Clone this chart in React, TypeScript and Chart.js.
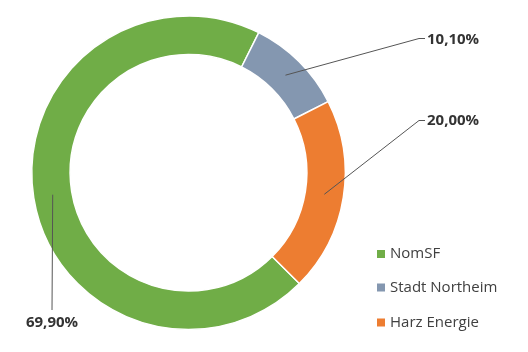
import React, { useEffect, useRef } from "react";
import { Chart, registerables } from "chart.js";

Chart.register(...registerables);

const categories = ["NomSF", "Stadt Northeim", "Harz Energie"];
const values = [69.9, 10.1, 20.0];
const colors = ["#70AD47", "#8497B0", "#ED7D31"];

const labelPlugin = {
  id: "excelLabels",
  afterDraw(chart: any) {
    const ctx = chart.ctx;
    const meta = chart.getDatasetMeta(0);
    const data = chart.data.datasets[0].data as number[];
    const anchors: any[] = [
      { ex: 52, ey: 310, elbow: null, tx: 52, ty: 323, align: "center" },
      { ex: 419, ey: 38.5, elbow: 425, tx: 427, ty: 40, align: "left" },
      { ex: 419, ey: 120.5, elbow: 425, tx: 427, ty: 121, align: "left" },
    ];
    ctx.save();
    meta.data.forEach((arc: any, i: number) => {
      const p = arc.tooltipPosition();
      const a = anchors[i];
      ctx.strokeStyle = "#555555";
      ctx.lineWidth = 1;
      ctx.beginPath();
      ctx.moveTo(p.x, p.y);
      ctx.lineTo(a.ex, a.ey);
      if (a.elbow !== null) ctx.lineTo(a.elbow, a.ey);
      ctx.stroke();
      ctx.fillStyle = "#333333";
      ctx.font = "bold 15px 'Open Sans'";
      ctx.textAlign = a.align;
      ctx.textBaseline = "middle";
      ctx.fillText(data[i].toFixed(2).replace(".", ",") + "%", a.tx, a.ty);
    });
    const legendY = [254, 287.5, 322.5];
    categories.forEach((c, i) => {
      ctx.fillStyle = colors[i];
      ctx.fillRect(377, legendY[i] - 4, 8, 8);
      ctx.fillStyle = "#404040";
      ctx.font = "15px 'Open Sans'";
      ctx.textAlign = "left";
      ctx.textBaseline = "middle";
      ctx.fillText(c, 390, legendY[i]);
    });
    ctx.restore();
  },
};

export default function App() {
  const ref = useRef<HTMLCanvasElement>(null);
  useEffect(() => {
    if (!ref.current) return;
    const chart = new Chart(ref.current, {
      type: "doughnut",
      data: {
        labels: categories,
        datasets: [
          {
            data: values,
            backgroundColor: colors,
            borderColor: "#ffffff",
            borderWidth: 1.5,
          },
        ],
      },
      options: {
        responsive: false,
        animation: false,
        rotation: 135,
        cutout: "75.5%",
        layout: { padding: { left: 31, right: 182, top: 14.5, bottom: 21 } },
        plugins: {
          legend: { display: false },
          tooltip: { enabled: false },
        },
      },
      plugins: [labelPlugin],
    });
    return () => chart.destroy();
  }, []);
  return (
    <div style={{ position: "absolute", left: 0, top: 0, width: 528, height: 352, background: "#fff" }}>
      <canvas ref={ref} width={528} height={352} style={{ display: "block" }} />
    </div>
  );
}
